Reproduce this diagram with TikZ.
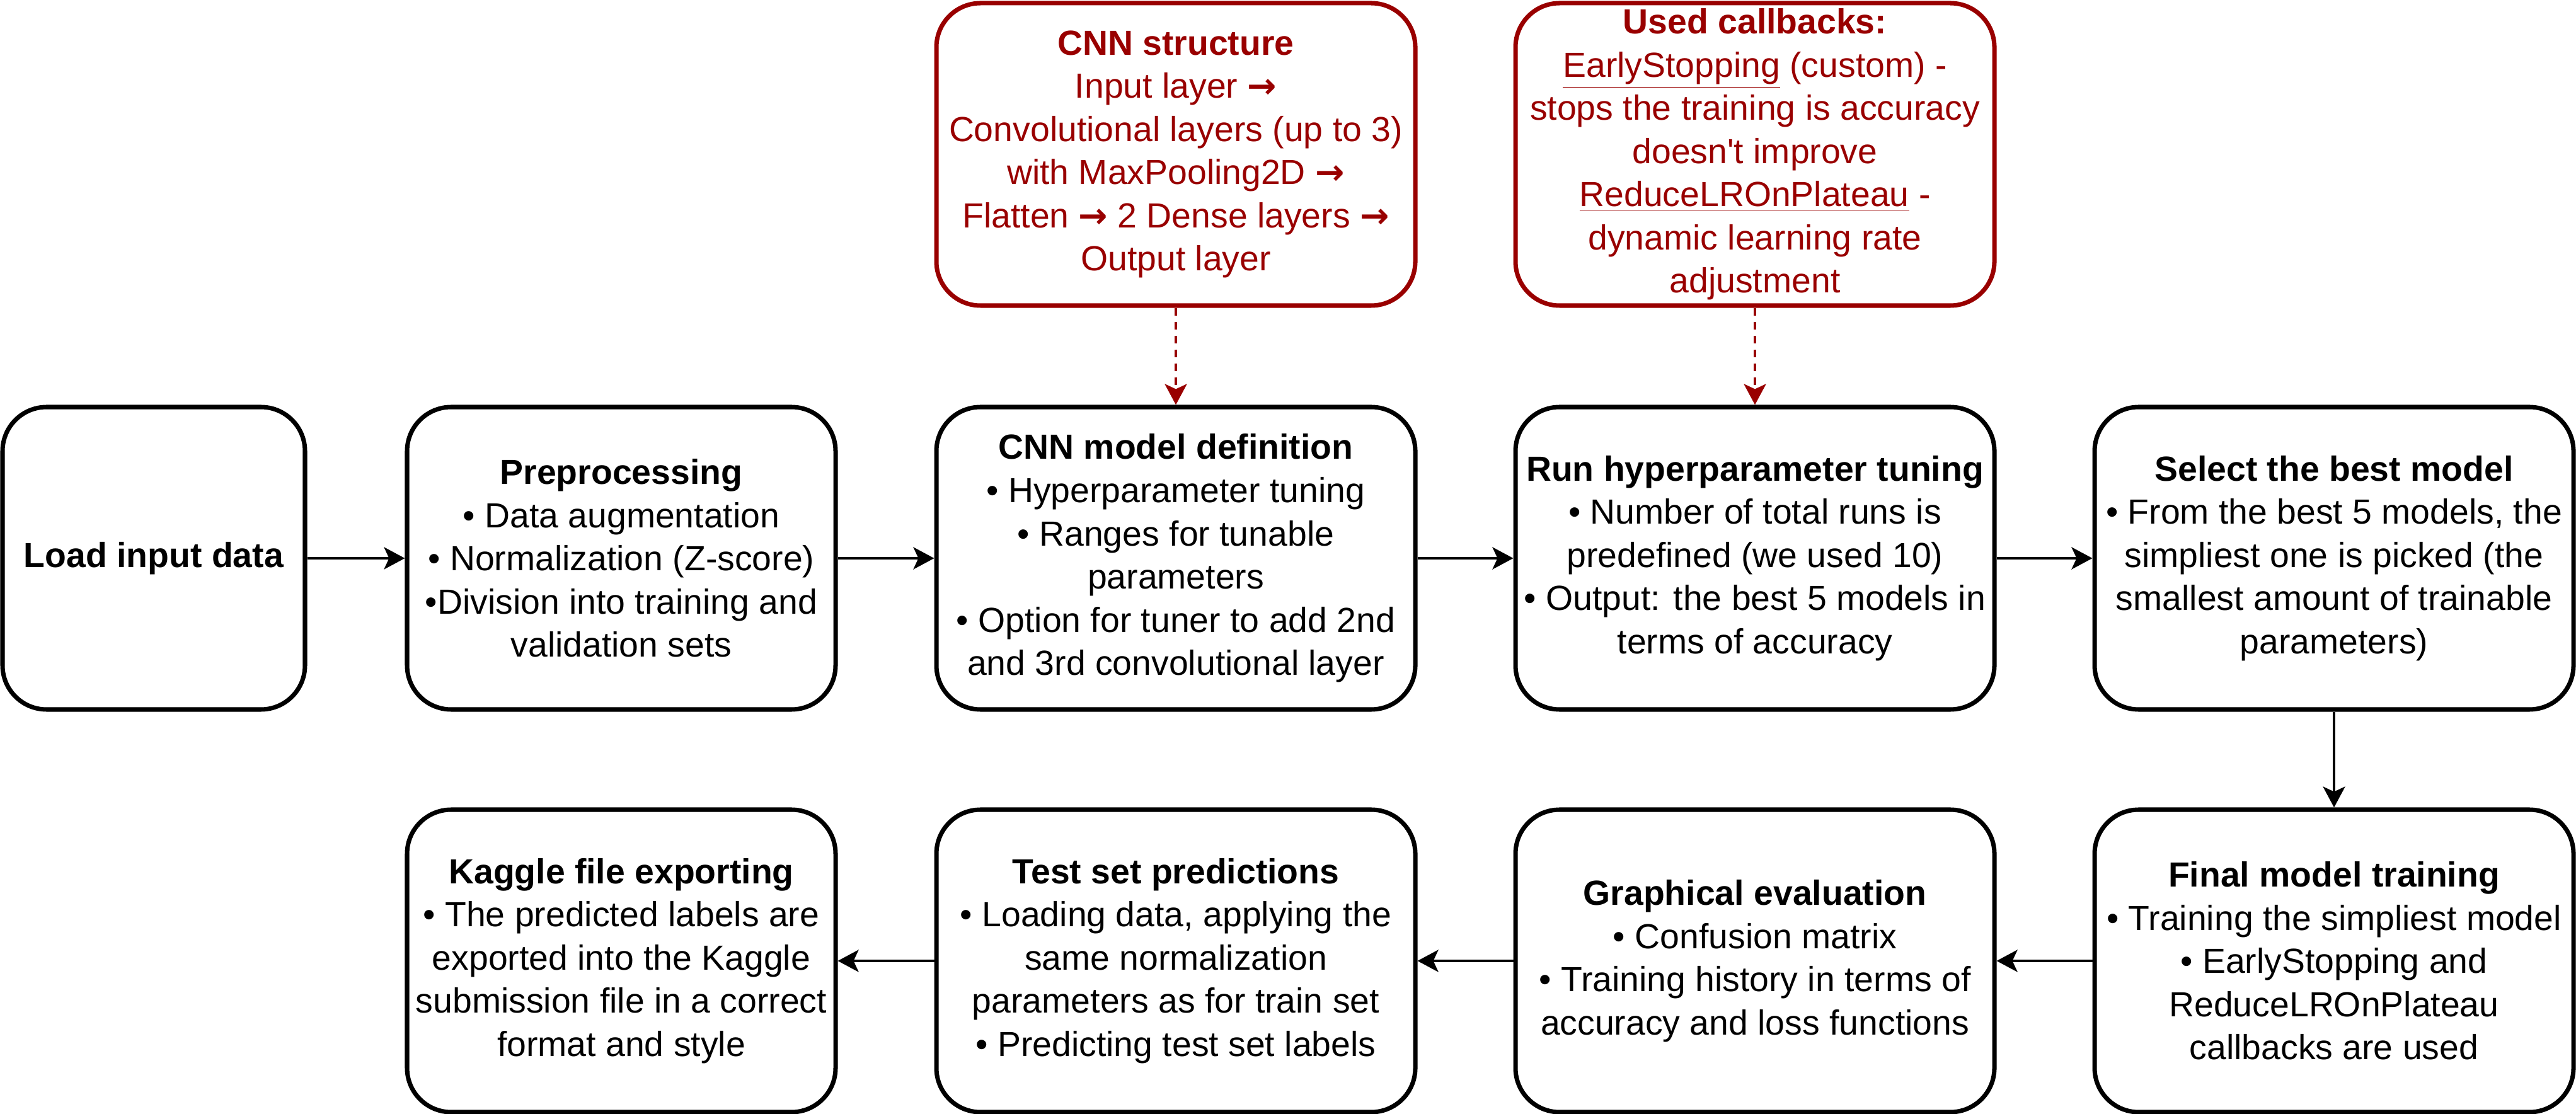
\documentclass[tikz,border=0pt]{standalone}
\usepackage{fontspec}
\setmainfont{Liberation Sans}[Ligatures=TeXOff]
\newfontfamily\arrowfont{DejaVu Sans}
\newcommand{\rarr}{{\arrowfont\bfseries →}}
\usetikzlibrary{arrows.meta}
\definecolor{darkred}{HTML}{990000}
\tikzset{
  box/.style={draw=black, line width=2pt, rounded corners=0.7cm, align=center,
    minimum height=4.8cm, inner sep=0pt, font=\fontsize{15.75}{19.5}\selectfont},
  redbox/.style={box, draw=darkred, text=darkred},
  arr/.style={-{Stealth[length=0.33cm,width=0.35cm,inset=0.08cm]}, line width=1.3pt, black},
  redarr/.style={-{Stealth[length=0.33cm,width=0.35cm,inset=0.08cm]}, line width=1.3pt, darkred,
    dash pattern=on 0.12cm off 0.1cm}
}
\begin{document}
\begin{tikzpicture}
\useasboundingbox (0,0) rectangle (40.88,-17.68);
% top red boxes
\node[redbox, minimum width=7.6cm] (struct) at (18.66,-2.45)
  {\textbf{CNN structure}\\Input layer \rarr\\Convolutional layers (up to 3)\\with MaxPooling2D \rarr\\Flatten \rarr{} 2 Dense layers \rarr\\Output layer};
\node[redbox, minimum width=7.6cm] (cb) at (27.85,-2.45)
  {\textbf{Used callbacks:}\\\underline{EarlyStopping} (custom) -\\stops the training is accuracy\\doesn't improve\\\underline{ReduceLROnPlateau} -\\dynamic learning rate\\adjustment};
% middle row
\node[box, minimum width=4.8cm] (load) at (2.44,-8.86) {\textbf{Load input data}};
\node[box, minimum width=6.8cm] (prep) at (9.86,-8.86)
  {\textbf{Preprocessing}\\• Data augmentation\\• Normalization (Z-score)\\•Division into training and\\validation sets};
\node[box, minimum width=7.6cm] (cnn) at (18.66,-8.86)
  {\textbf{CNN model definition}\\• Hyperparameter tuning\\• Ranges for tunable\\parameters\\• Option for tuner to add 2nd\\and 3rd convolutional layer};
\node[box, minimum width=7.6cm] (run) at (27.85,-8.86)
  {\textbf{Run hyperparameter tuning}\\• Number of total runs is\\predefined (we used 10)\\• Output: the best 5 models in\\terms of accuracy};
\node[box, minimum width=7.6cm] (sel) at (37.04,-8.86)
  {\textbf{Select the best model}\\• From the best 5 models, the\\simpliest one is picked (the\\smallest amount of trainable\\parameters)};
% bottom row
\node[box, minimum width=7.6cm] (fin) at (37.04,-15.25)
  {\textbf{Final model training}\\• Training the simpliest model\\• EarlyStopping and\\ReduceLROnPlateau\\callbacks are used};
\node[box, minimum width=7.6cm] (graph) at (27.85,-15.25)
  {\textbf{Graphical evaluation}\\• Confusion matrix\\• Training history in terms of\\accuracy and loss functions};
\node[box, minimum width=7.6cm] (test) at (18.66,-15.25)
  {\textbf{Test set predictions}\\• Loading data, applying the\\same normalization\\parameters as for train set\\• Predicting test set labels};
\node[box, minimum width=6.8cm] (kag) at (9.86,-15.25)
  {\textbf{Kaggle file exporting}\\• The predicted labels are\\exported into the Kaggle\\submission file in a correct\\format and style};
% connectors
\draw[arr] (load) -- (prep);
\draw[arr] (prep) -- (cnn);
\draw[arr] (cnn) -- (run);
\draw[arr] (run) -- (sel);
\draw[arr] (sel) -- (fin);
\draw[arr] (fin) -- (graph);
\draw[arr] (graph) -- (test);
\draw[arr] (test) -- (kag);
\draw[redarr] (struct) -- (cnn);
\draw[redarr] (cb) -- (run);
\end{tikzpicture}
\end{document}
